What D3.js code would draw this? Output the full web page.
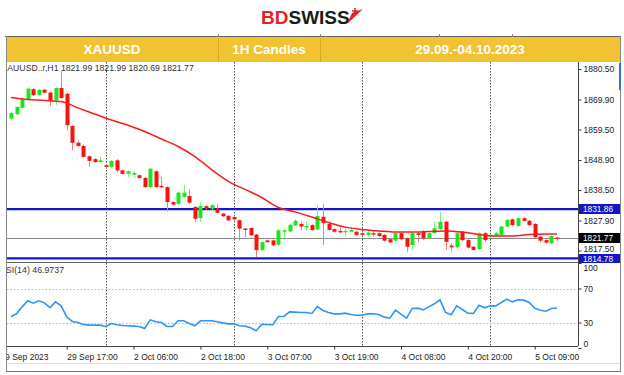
<!DOCTYPE html>
<html>
<head>
<meta charset="utf-8">
<style>
body { margin: 0; background: #fff; }
svg { display: block; font-family: "Liberation Sans", Arial, sans-serif; }
.band text { fill: #fff; font-weight: bold; font-size: 13.5px; text-anchor: middle; }
.axis text { font-size: 8.5px; fill: #222; font-family: "Liberation Sans", Arial, sans-serif; }
.axis line { stroke: #333; }
.grid { stroke: #555; stroke-dasharray: 1.5,1.5; }
</style>
</head>
<body>
<svg id="thevis" width="624" height="375"></svg>
<script src="https://cdn.jsdelivr.net/npm/d3@7"></script>
<script>
// hourly candles, 29 Sep 07:00 .. 5 Oct 11:00
var opens = [1863.3,1864.8,1867.0,1870.0,1873.5,1871.4,1873.3,1872.3,1869.6,1873.9,
  1871.9,1860.7,1854.9,1853.8,1850.2,1849.2,1848.2,1847.1,1846.5,1848.8,
  1845.3,1844.1,1843.8,1843.6,1842.7,1839.5,1845.0,1839.9,1839.5,1834.3,
  1833.7,1836.1,1836.4,1832.6,1828.8,1832.9,1832.0,1832.0,1830.3,1829.5,
  1829.1,1828.0,1825.1,1825.3,1823.0,1817.6,1821.0,1821.0,1819.5,1824.1,
  1824.1,1826.2,1826.7,1825.5,1826.3,1824.8,1829.2,1826.7,1824.9,1824.3,
  1823.8,1824.0,1824.0,1823.5,1822.9,1823.5,1823.5,1822.9,1821.4,1820.9,
  1823.5,1821.7,1819.4,1823.5,1824.0,1821.7,1823.5,1824.9,1827.5,1819.2,
  1818.6,1824.0,1821.1,1818.8,1818.0,1823.5,1822.3,1822.5,1822.9,1825.8,
  1828.3,1826.0,1828.7,1827.8,1826.7,1822.3,1821.1,1820.0,1821.99];
var highs = [1865.6,1867.6,1870.3,1874.2,1873.9,1873.6,1873.5,1872.6,1874.2,1879.7,
  1872.3,1861.0,1855.6,1854.3,1850.5,1849.6,1850.0,1847.6,1848.9,1849.2,
  1845.6,1845.2,1845.0,1843.9,1843.0,1846.1,1845.3,1843.0,1839.8,1834.6,
  1838.0,1840.3,1838.7,1832.9,1834.3,1833.2,1833.7,1833.7,1830.6,1829.8,
  1829.4,1828.3,1825.3,1825.6,1823.3,1820.7,1821.3,1821.3,1824.8,1825.1,
  1826.7,1828.4,1827.5,1827.5,1826.6,1833.3,1833.6,1827.0,1825.2,1825.5,
  1825.7,1825.7,1824.3,1823.8,1824.6,1824.6,1823.8,1823.2,1821.7,1823.8,
  1823.8,1822.0,1824.0,1824.0,1824.6,1823.8,1827.5,1831.0,1827.8,1820.0,
  1824.0,1824.3,1821.4,1819.1,1823.8,1824.0,1823.2,1824.0,1826.1,1828.4,
  1828.6,1829.0,1829.2,1828.1,1827.0,1822.6,1821.4,1822.8,1821.99];
var lows = [1863.1,1864.5,1866.7,1869.8,1871.1,1871.2,1872.0,1867.7,1868.1,1870.1,
  1859.2,1852.3,1853.4,1849.7,1846.5,1847.9,1848.0,1846.1,1846.2,1844.7,
  1843.8,1843.0,1843.0,1842.4,1839.2,1839.2,1839.2,1839.2,1831.1,1833.0,
  1833.4,1835.8,1833.7,1827.4,1827.4,1831.7,1831.1,1830.3,1829.1,1827.7,
  1828.0,1821.0,1822.2,1822.5,1815.2,1817.3,1820.1,1819.0,1819.2,1821.1,
  1823.8,1825.9,1824.6,1824.6,1824.3,1824.5,1819.4,1824.3,1823.7,1823.5,
  1822.3,1823.9,1822.6,1822.6,1822.6,1822.3,1822.2,1820.6,1820.0,1820.6,
  1821.1,1817.1,1817.7,1820.5,1821.1,1821.4,1823.2,1824.6,1817.7,1817.1,
  1817.7,1820.8,1818.2,1817.4,1817.7,1820.5,1822.0,1822.2,1822.6,1825.5,
  1826.0,1825.7,1827.5,1826.0,1821.8,1820.2,1819.9,1819.7,1820.69];
var closes = [1865.2,1867.3,1870.0,1873.7,1871.4,1873.3,1872.3,1869.6,1873.9,1870.4,
  1861.0,1854.9,1853.8,1850.0,1848.6,1848.2,1848.8,1846.5,1848.6,1845.3,
  1844.1,1845.0,1844.4,1842.7,1839.5,1845.9,1839.5,1839.5,1834.3,1833.4,
  1837.6,1837.6,1834.1,1828.5,1832.9,1832.0,1833.2,1830.6,1829.4,1828.0,
  1828.3,1825.1,1824.8,1822.8,1817.6,1820.4,1820.4,1819.3,1824.5,1824.5,
  1826.4,1827.8,1825.8,1826.0,1824.6,1829.5,1827.0,1824.6,1824.0,1823.8,
  1824.3,1824.6,1822.9,1822.9,1823.7,1823.2,1822.5,1820.9,1820.3,1823.5,
  1821.4,1818.8,1823.5,1822.9,1821.7,1823.5,1825.2,1827.5,1820.5,1818.6,
  1823.5,1821.1,1818.5,1817.7,1823.5,1821.1,1822.9,1823.5,1825.8,1828.1,
  1826.3,1828.7,1827.8,1826.3,1822.1,1820.9,1820.2,1822.5,1821.77];

// moving average, read every third bar
var maIdx = [0,3,6,9,12,15,18,21,24,27,30,33,36,39,42,45,48,51,54,57,60,63,66,69,72,75,78,81,84,87,90,93,96,98];
var maVal = [1870.6,1869.9,1869.6,1869.2,1867.0,1864.9,1862.8,1861.0,1858.8,1856.2,
  1853.6,1850.1,1845.6,1841.5,1838.7,1835.9,1832.4,1830.9,1829.1,1827.2,
  1825.6,1824.8,1824.3,1823.9,1823.9,1824.1,1824.3,1823.9,1823.0,1822.5,
  1822.5,1823.0,1823.2,1823.2];

// RSI(14) per bar
var rsi = [37.1,40.2,48.4,55.5,52.7,55.5,53.1,47.6,54.3,49.6,
  36.7,31.2,30.0,27.6,26.9,26.9,26.9,25.3,28.8,27.3,
  26.5,26.1,25.7,25.3,22.9,33.1,30.8,30.0,25.3,25.3,
  32.0,32.0,28.8,26.1,32.0,32.0,32.0,30.8,29.6,28.4,
  28.4,26.1,25.7,23.7,20.2,28.0,27.6,27.3,37.1,37.1,
  42.5,42.2,41.8,41.8,40.6,48.8,44.1,41.8,40.2,40.2,
  41.0,39.4,38.6,38.6,40.2,40.2,39.4,36.3,35.1,44.5,
  39.8,35.1,46.5,46.9,44.9,48.4,52.0,56.7,41.8,39.0,
  49.6,45.3,41.0,40.6,50.4,47.3,49.6,49.6,53.5,57.5,
  54.3,56.7,56.3,53.5,46.9,44.5,43.3,46.5,46.97];

var priceTicks = [1880.50, 1869.90, 1859.50, 1848.90, 1838.50, 1827.90, 1817.50];
var blueLevels = [1831.86, 1814.78];
var bidPrice = 1821.77;
var rsiTicks = [100, 70, 30, 0];
var rsiLevels = [70, 30];
var timeIdx = [-2, 10, 22, 34, 46, 58, 70, 82, 94];
var timeLabels = ["29 Sep 2023", "29 Sep 17:00", "2 Oct 06:00", "2 Oct 18:00", "3 Oct 07:00",
  "3 Oct 19:00", "4 Oct 08:00", "4 Oct 20:00", "5 Oct 09:00"];
var daySeps = [17, 40, 63, 86];
var headCells = ["XAUUSD", "1H Candles", "29.09.-04.10.2023"];

var svg = d3.select("svg");
var left = 7, right = 578;
var mainTop = 62, mainBot = 262, rsiBot = 346;

var x = d3.scaleLinear().domain([0, 98]).range([11, 557]);
var y = d3.scaleLinear().domain([1814.78, 1880.5]).range([258.3, 69]);
var yr = d3.scaleLinear().domain([0, 100]).range([348, 263]);

var defs = svg.append("defs");
defs.append("clipPath").attr("id", "clipMain").append("rect")
  .attr("x", left).attr("y", mainTop).attr("width", right - left).attr("height", mainBot - mainTop);
defs.append("clipPath").attr("id", "clipRsi").append("rect")
  .attr("x", left).attr("y", mainBot).attr("width", right - left).attr("height", rsiBot - mainBot);
defs.append("clipPath").attr("id", "clipAll").append("rect")
  .attr("x", left).attr("y", 0).attr("width", 624 - left).attr("height", 375);

// ---- logo
var logo = svg.append("g");
logo.append("text").attr("x", 261).attr("y", 24)
  .style("font-size", "19px").style("font-weight", "bold")
  .selectAll("tspan").data([["BD", "#e32228"], ["SWISS", "#1b1b1b"]]).enter()
  .append("tspan").attr("fill", function(d) { return d[1]; }).text(function(d) { return d[0]; });
logo.append("path").attr("d", "M347,24 L363,9 L352,13 Z").attr("fill", "#e32228");
logo.append("path").attr("d", "M355,8 v6 M352,11 h6").attr("stroke", "#e32228").attr("stroke-width", 1.5);

// ---- header band
var cellX = [6, 218, 320, 620];
var band = svg.append("g").attr("class", "band");
band.append("rect").attr("x", 6).attr("y", 36).attr("width", 614).attr("height", 26).attr("fill", "#f1c232");
band.append("line").attr("x1", 5).attr("x2", 621).attr("y1", 36.5).attr("y2", 36.5).attr("stroke", "#666");
band.selectAll(".div").data([218, 320]).enter().append("line")
  .attr("x1", function(d) { return d + 0.5; }).attr("x2", function(d) { return d + 0.5; })
  .attr("y1", 36).attr("y2", 62).attr("stroke", "#d9a920");
band.selectAll(".tick").data([218, 320, 439, 512]).enter().append("line")
  .attr("x1", function(d) { return d + 0.5; }).attr("x2", function(d) { return d + 0.5; })
  .attr("y1", 34).attr("y2", 37).attr("stroke", "#888");
band.selectAll("text").data(headCells).enter().append("text")
  .attr("x", function(d, i) { return i == 2 ? 470 : (cellX[i] + cellX[i + 1]) / 2; })
  .attr("y", 54)
  .text(function(d) { return d; });

// ---- frame lines
svg.append("line").attr("x1", 6.5).attr("x2", 6.5).attr("y1", 36).attr("y2", 372).attr("stroke", "#888");
svg.append("line").attr("x1", 620.5).attr("x2", 620.5).attr("y1", 36).attr("y2", 372).attr("stroke", "#888");
svg.append("rect").attr("x", 619).attr("y", 63).attr("width", 2).attr("height", 27).attr("fill", "#3a6fd8");

// day separators
svg.append("g").selectAll("line").data(daySeps).enter().append("line")
  .attr("class", "grid")
  .attr("x1", function(d) { return Math.round(x(d)) + 0.5; })
  .attr("x2", function(d) { return Math.round(x(d)) + 0.5; })
  .attr("y1", mainTop).attr("y2", rsiBot);

// ---- main panel
var main = svg.append("g").attr("clip-path", "url(#clipMain)");

main.append("line").attr("x1", left).attr("x2", right)
  .attr("y1", Math.round(y(bidPrice)) + 0.5).attr("y2", Math.round(y(bidPrice)) + 0.5)
  .attr("stroke", "#8c8c8c");
main.selectAll(".lvl").data(blueLevels).enter().append("line")
  .attr("x1", left).attr("x2", right)
  .attr("y1", function(d) { return y(d); }).attr("y2", function(d) { return y(d); })
  .attr("stroke", "#1414c8").attr("stroke-width", 2.2);

var candles = d3.range(opens.length);
var cg = main.append("g");
cg.selectAll(".wick").data(candles).enter().append("line")
  .attr("x1", function(i) { return Math.round(x(i)) + 0.5; })
  .attr("x2", function(i) { return Math.round(x(i)) + 0.5; })
  .attr("y1", function(i) { return y(highs[i]); })
  .attr("y2", function(i) { return y(lows[i]); })
  .attr("stroke", function(i) { return closes[i] >= opens[i] ? "#7ef07e" : "#ff7a7a"; });
cg.selectAll(".body").data(candles).enter().append("rect")
  .attr("x", function(i) { return Math.round(x(i)) - 1.5; })
  .attr("width", 4)
  .attr("y", function(i) { return y(Math.max(opens[i], closes[i])); })
  .attr("height", function(i) { return Math.max(1.4, Math.abs(y(opens[i]) - y(closes[i]))); })
  .attr("fill", function(i) { return closes[i] >= opens[i] ? "#1de51d" : "#ff1010"; });

var maLine = d3.line()
  .x(function(d, k) { return x(maIdx[k]); })
  .y(function(d) { return y(d); })
  .curve(d3.curveMonotoneX);
main.append("path").attr("d", maLine(maVal))
  .attr("fill", "none").attr("stroke", "#ff1a1a").attr("stroke-width", 1.5);

// info text
svg.append("g").attr("clip-path", "url(#clipAll)").append("text")
  .attr("x", 1.5).attr("y", 71)
  .style("font-size", "8.7px").attr("fill", "#333")
  .text("XAUUSD..r,H1  1821.99 1821.99 1820.69 1821.77");

// ---- RSI panel
svg.append("line").attr("x1", left).attr("x2", right).attr("y1", 262.5).attr("y2", 262.5).attr("stroke", "#666");
var rp = svg.append("g").attr("clip-path", "url(#clipRsi)");
rp.selectAll(".lv").data(rsiLevels).enter().append("line")
  .attr("x1", left).attr("x2", right)
  .attr("y1", function(d) { return Math.round(yr(d)) + 0.5; })
  .attr("y2", function(d) { return Math.round(yr(d)) + 0.5; })
  .attr("stroke", "#bbb").attr("stroke-dasharray", "1.5,2");
rp.append("path")
  .attr("d", d3.line().x(function(d, i) { return x(i); }).y(function(d) { return yr(d); })(rsi))
  .attr("fill", "none").attr("stroke", "#2e95f5").attr("stroke-width", 1.6);
svg.append("g").attr("clip-path", "url(#clipAll)").append("text")
  .attr("x", -0.5).attr("y", 273)
  .style("font-size", "8.8px").attr("fill", "#333")
  .text("RSI(14) 46.9737");

// ---- price axis
svg.append("line").attr("x1", right + 0.5).attr("x2", right + 0.5)
  .attr("y1", mainTop).attr("y2", rsiBot).attr("stroke", "#444");

var pAxis = d3.axisRight(y).tickValues(priceTicks).tickSize(3).tickPadding(2)
  .tickFormat(d3.format(".2f"));
svg.append("g").attr("class", "axis").attr("transform", "translate(" + (right + 0.5) + ",0)")
  .call(pAxis)
  .call(function(g) { g.select(".domain").remove(); })
  .selectAll(".tick text").attr("dy", function(d) { return d == 1817.5 ? "0.15em" : "0.32em"; });

var rAxis = d3.axisRight(yr).tickValues(rsiTicks).tickSize(3).tickPadding(2);
var rg = svg.append("g").attr("class", "axis").attr("transform", "translate(" + (right + 0.5) + ",0)")
  .call(rAxis)
  .call(function(g) { g.select(".domain").remove(); });
rg.selectAll(".tick text").attr("dy", function(d) { return d == 100 ? "0.85em" : d == 0 ? "-0.2em" : "0.32em"; });

// highlighted price tags
var tags = [[1831.86, "#1414c8"], [bidPrice, "#000"], [1814.78, "#1414c8"]];
var tg = svg.append("g").selectAll("g").data(tags).enter().append("g")
  .attr("transform", function(d) { return "translate(" + (right + 1) + "," + Math.round(y(d[0])) + ")"; });
tg.append("rect").attr("x", 0).attr("y", function(d, i) { return i == 2 ? -4 : -5; })
  .attr("width", 41).attr("height", function(d, i) { return i == 2 ? 9 : 10; })
  .attr("fill", function(d) { return d[1]; });
tg.append("text").attr("x", 4).attr("y", function(d, i) { return i == 2 ? 3.5 : 3; })
  .style("font-size", "8.3px").attr("fill", "#fff")
  .text(function(d) { return d3.format(".2f")(d[0]); });

// ---- time axis
svg.append("line").attr("x1", left).attr("x2", right).attr("y1", rsiBot + 0.5).attr("y2", rsiBot + 0.5).attr("stroke", "#444");
var tAxis = d3.axisBottom(x).tickValues(timeIdx).tickSize(3).tickPadding(4)
  .tickFormat(function(d, i) { return timeLabels[i]; });
svg.append("g").attr("class", "axis").attr("clip-path", "url(#clipAll)")
  .attr("transform", "translate(0," + (rsiBot + 0.5) + ")")
  .call(tAxis)
  .call(function(g) { g.select(".domain").remove(); })
  .selectAll(".tick text").attr("text-anchor", "start").attr("x", 0);

svg.append("line").attr("x1", left).attr("x2", 620).attr("y1", 363.5).attr("y2", 363.5).attr("stroke", "#e2e2e2");
svg.append("line").attr("x1", 6).attr("x2", 621).attr("y1", 371.5).attr("y2", 371.5).attr("stroke", "#777");
</script>
</body>
</html>
